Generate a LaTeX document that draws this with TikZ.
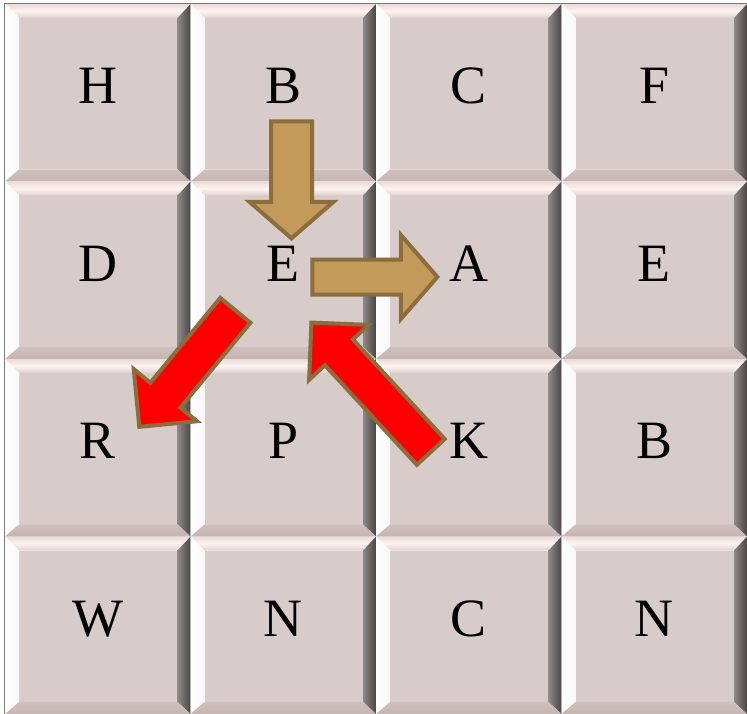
\documentclass[tikz,border=0pt]{standalone}
\usepackage{fontspec}
\setmainfont{Liberation Serif}
\usetikzlibrary{shapes.arrows}
\definecolor{tileface}{HTML}{D8CCCA}
\definecolor{bevtop}{HTML}{EADAD8}
\definecolor{bevtopmid}{HTML}{FDF4F2}
\definecolor{bevtopin}{HTML}{E0D0CE}
\definecolor{bevbot}{HTML}{C4B4B2}
\definecolor{bevbotin}{HTML}{CFC0BE}
\definecolor{bevright}{HTML}{4A4646}
\definecolor{bevrightin}{HTML}{8E8888}
\definecolor{framegray}{HTML}{7A7A7A}
\definecolor{arrowedge}{HTML}{8B6D3E}
\definecolor{arrowtan}{HTML}{C49A5A}
\tikzset{
  letter/.style={anchor=base,font=\fontsize{54}{60}\selectfont},
  blockarrow/.style={single arrow,draw=arrowedge,line width=4pt,inner sep=0pt,line join=miter,anchor=tip}
}
\begin{document}
\begin{tikzpicture}[x=1pt,y=-1pt]
  \useasboundingbox (0,0) rectangle (747,714);
  \fill[white] (0,0) rectangle (747,714);
  % tiles with bevels and letters
  \foreach \row [count=\r from 0] in {{H,B,C,F},{D,E,A,E},{R,P,K,B},{W,N,C,N}}{
    \foreach \l [count=\c from 0] in \row {
      \pgfmathsetmacro\xa{5+185.5*\c}
      \pgfmathsetmacro\ya{4+177.5*\r}
      \pgfmathsetmacro\xb{\xa+185.5}
      \pgfmathsetmacro\yb{\ya+177.5}
      \fill[tileface] (\xa+14,\ya+14) rectangle (\xb-13,\yb-12);
      \shade[top color=bevtop,bottom color=bevtopin,middle color=bevtopmid]
        (\xa,\ya) -- (\xb,\ya) -- (\xb-13,\ya+14) -- (\xa+14,\ya+14) -- cycle;
      \shade[left color=white,right color=white!85!tileface]
        (\xa,\ya) -- (\xa+14,\ya+14) -- (\xa+14,\yb-12) -- (\xa,\yb) -- cycle;
      \shade[left color=bevrightin,right color=bevright]
        (\xb,\ya) -- (\xb,\yb) -- (\xb-13,\yb-12) -- (\xb-13,\ya+14) -- cycle;
      \shade[top color=bevbotin,bottom color=bevbot]
        (\xa,\yb) -- (\xb,\yb) -- (\xb-13,\yb-12) -- (\xa+14,\yb-12) -- cycle;
      \node[letter] (l\r\c) at ({(\xa+\xb)/2},{(\ya+\yb)/2+11}) {\l};
    }
  }
  \draw[framegray,line width=1pt] (4.5,714) -- (4.5,3.5) -- (747,3.5);
  % arrows, placed by their tips
  \node[blockarrow,fill=arrowtan,inner ysep=18.5pt,minimum height=117pt,
    single arrow head extend=21.5pt,single arrow tip angle=98,rotate=-90] (downarrow) at (291.5,241) {};
  \node[blockarrow,fill=arrowtan,inner ysep=15.5pt,minimum height=125pt,
    single arrow head extend=24.5pt,single arrow tip angle=98] (rightarrow) at (440,277) {};
  \node[blockarrow,fill=red,inner ysep=17.5pt,minimum height=151pt,
    single arrow head extend=21.5pt,rotate=230.5] (leftdownarrow) at (137.5,429) {};
  \node[blockarrow,fill=red,inner ysep=17pt,minimum height=176pt,
    single arrow head extend=21.5pt,rotate=132.7] (leftuparrow) at (309.5,320.5) {};
\end{tikzpicture}
\end{document}
